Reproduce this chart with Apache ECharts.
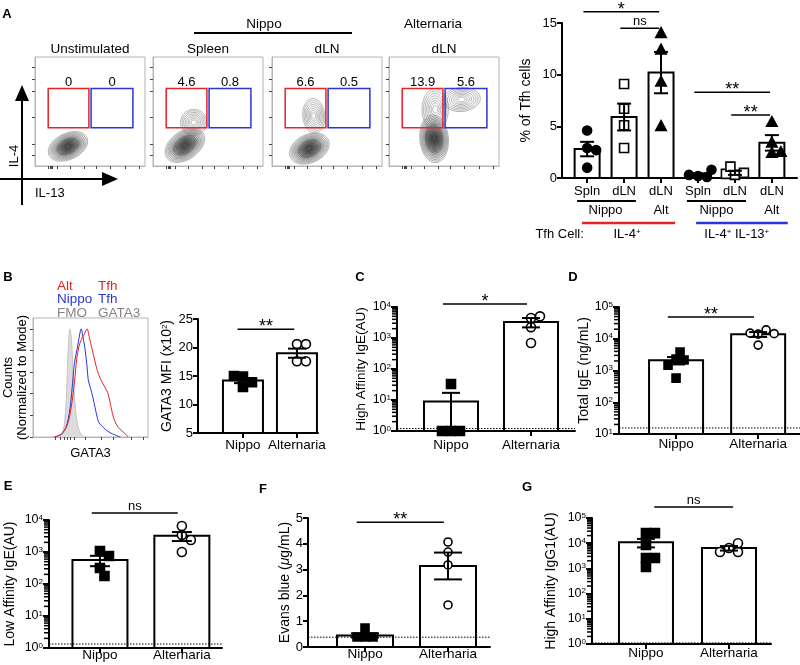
<!DOCTYPE html>
<html>
<head>
<meta charset="utf-8">
<script src="https://cdn.jsdelivr.net/npm/echarts@6.0.0/dist/echarts.min.js"></script>
<style>html,body{margin:0;padding:0;background:#fff;}#chart{width:800px;height:665px;}</style>
</head>
<body>
<div id="chart"></div>
<script>
// ================= DATA =================
// Panel A – flow plots (x: IL-13, y: IL-4), plot units 0-100
const flowTitles = ['Unstimulated', 'Spleen', 'dLN', 'dLN'];
const flowGroups = ['Nippo', 'Alternaria'];
const flowIL4Only = ['0', '4.6', '6.6', '13.9'];
const flowIL4IL13 = ['0', '0.8', '0.5', '5.6'];
const gateIL4 = [12, 35, 49, 71];
const gateIL4IL13 = [51, 35, 89, 71];
// contour lobes: [centre x, centre y, radius x, radius y, tilt deg, rings]
const flowLobes = [
  [[30, 18, 19, 12, 25, 13]],
  [[29, 19, 20, 13, 35, 13], [37, 40, 12, 12, 35, 8]],
  [[34, 16, 19, 13, 25, 13], [38, 46, 10, 16, 5, 8]],
  [[41, 25, 13, 22, 5, 14], [42, 52, 12, 19, 0, 8], [66, 61, 17, 11, 5, 8]]
];
// Panel A – % of Tfh cells
const tfhCats = ['Spln', 'dLN', 'dLN', 'Spln', 'dLN', 'dLN'];
const tfhInfection = ['Nippo', 'Alt', 'Nippo', 'Alt'];
const tfhSubset = ['IL-4', 'IL-4 IL-13'];
const tfhMean = [2.8, 5.9, 10.2, 0.3, 0.5, 3.4];
const tfhSem = [0.7, 1.3, 2.0, 0.15, 0.2, 0.75];
const tfhPoints = [[4.6, 2.9, 2.7, 1.0], [9.1, 6.7, 5.1, 2.9], [14.0, 12.4, 9.3, 5.0],
                   [0.2, 0.1, 0.3, 0.8], [0.3, 0.5, 0.4, 1.1], [5.4, 3.4, 2.4, 2.5]];
const tfhSig = [[1, 3, 16.1, '*'], [2, 3, 14.5, 'ns'], [4, 6, 8.3, '**'], [5, 6, 6.1, '**']];
// Panel B – GATA3 histogram (x: GATA3, y: % of mode)
const gata3FMO = [[22,0],[25,3],[27,10],[29,35],[30,65],[31,88],[32,100],[33,95],[34,80],[35,55],[37,25],[39,10],[41,4],[44,0]];
const gata3Nippo = [[19,0],[25,3],[29,10],[32,25],[34,45],[36,68],[39,85],[41,97],[42,100],[43,95],[45,83],[47,65],[48,53],[50,45],[52,37],[54,27],[57,14],[60,10],[63,7],[67,4],[71,2],[76,0]];
const gata3Alt = [[18,0],[24,2],[28,7],[31,15],[34,33],[36,50],[38,72],[40,84],[42,90],[44,94],[45,96],[47,100],[49,92],[51,83],[53,74],[55,65],[57,58],[59,53],[62,47],[65,41],[67,32],[69,22],[71,15],[74,9],[77,6],[79,4],[83,0]];
const histLegend = [['Alt', 'Tfh'], ['Nippo', 'Tfh'], ['FMO', 'GATA3']];
// Shared categories
const infectionCats = ['Nippo', 'Alternaria'];
// Panel B – GATA3 MFI (x10^2)
const gataMean = [14.2, 19.0];
const gataSem = [0.45, 0.8];
const gataPoints = [[14.9, 13.1, 13.9, 15.0], [20.6, 17.6, 17.6, 20.6]];
const gataSig = [[1, 2, 23.2, '**']];
// Panel C – High affinity IgE (AU)
const hiIgEMean = [9, 3300];
const hiIgESem = [8, 1100];
const hiIgEPoints = [[1, 1, 1, 33], [4400, 5000, 2240, 690]];
const hiIgESig = [[1, 2, 12500, '*']];
const hiIgELimit = [1.2];
// Panel D – Total IgE (ng/mL)
const totIgEMean = [2100, 13800];
const totIgESem = [550, 2400];
const totIgEPoints = [[2290, 2140, 3800, 1480, 575], [14000, 19000, 15000, 14500, 6300]];
const totIgESig = [[1, 2, 48000, '**']];
const totIgELimit = [15.5];
// Panel E – Low affinity IgE (AU)
const loIgEMean = [560, 3200];
const loIgESem = [200, 1000];
const loIgEPoints = [[1070, 750, 316, 178], [6500, 3400, 2370, 1000]];
const loIgESig = [[1, 2, 16500, 'ns']];
const loIgELimit = [1.33];
// Panel F – Evans blue (µg/mL)
const evansMean = [0.45, 3.14];
const evansSem = [0.08, 0.52];
const evansPoints = [[0.39, 0.39, 0.39, 0.73], [4.07, 3.68, 3.18, 1.63]];
const evansSig = [[1, 2, 4.84, '**']];
const evansLimit = [0.38];
// Panel G – High affinity IgG1 (AU)
const igg1Mean = [10800, 6400];
const igg1Sem = [4000, 1300];
const igg1Points = [[25000, 25000, 8500, 2600, 2600, 1140], [6460, 4470, 4470, 10000]];
const igg1Sig = [[1.2, 2.1, 275000, 'ns']];
const igg1Limit = [1.1];

// ================= BUILD =================
const FF = '"Liberation Sans", Arial, Helvetica, sans-serif';
const RED = '#e3242b', BLUE = '#2a35d8', GRAY = '#8c8282';
const grids = [], xAxes = [], yAxes = [], series = [];
function addGrid(g, xa, ya) {
  const i = grids.length;
  grids.push(g);
  xAxes.push(Object.assign({ gridIndex: i }, xa));
  yAxes.push(Object.assign({ gridIndex: i }, ya));
  return i;
}
const AX_LINE = { show: true, onZero: false, lineStyle: { color: '#000', width: 2 } };
const AX_TICK = { show: true, length: 5, lineStyle: { color: '#000', width: 2 } };
const supRich = {
  b: { fontSize: 12.5, fontFamily: FF, color: '#000' },
  s: { fontSize: 8, fontFamily: FF, color: '#000', verticalAlign: 'top' }
};
function catAxis(min, max, cats, margin, fs) {
  const vals = cats.map((c, i) => i + 1);
  return {
    type: 'value', min, max, axisLine: AX_LINE, splitLine: { show: false },
    axisTick: Object.assign({}, AX_TICK, { customValues: vals }),
    axisLabel: { customValues: vals, formatter: v => cats[Math.round(v) - 1] || '', margin,
      color: '#000', fontSize: fs || 13.5, fontFamily: FF }
  };
}
function linAxis(min, max, interval, name, gap, fs) {
  return {
    type: 'value', min, max, interval, name, nameLocation: 'middle', nameGap: gap,
    nameTextStyle: { color: '#000', fontSize: fs || 14, fontFamily: FF,
      rich: { s: { fontSize: 8, fontFamily: FF, color: '#000', verticalAlign: 'top' },
              i: { fontSize: fs || 14, fontFamily: FF, color: '#000', fontStyle: 'italic' },
              n: { fontSize: fs || 14, fontFamily: FF, color: '#000' } } },
    axisLine: AX_LINE, axisTick: AX_TICK, splitLine: { show: false },
    axisLabel: { color: '#000', fontSize: 13, fontFamily: FF, margin: 5 }
  };
}
function logAxis(min, max, name, gap, fs) {
  return {
    type: 'log', logBase: 10, min, max, name, nameLocation: 'middle', nameGap: gap,
    nameTextStyle: { color: '#000', fontSize: fs || 14, fontFamily: FF },
    axisLine: AX_LINE, axisTick: Object.assign({}, AX_TICK, { length: 6 }), splitLine: { show: false },
    axisLabel: { margin: 6, formatter: v => '{b|10}{s|' + Math.round(Math.log10(v)) + '}', rich: supRich }
  };
}
function shapeEl(kind, q, s) {
  const open = kind.indexOf('Open') >= 0;
  const style = { fill: open ? '#fff' : '#000', stroke: '#000', lineWidth: 1.6 };
  if (kind.indexOf('circle') === 0) return { type: 'circle', shape: { cx: q[0], cy: q[1], r: s / 2 }, style };
  if (kind.indexOf('square') === 0) return { type: 'rect', shape: { x: q[0] - s / 2, y: q[1] - s / 2, width: s, height: s }, style };
  return { type: 'polygon', shape: { points: [[q[0], q[1] - s * 0.62], [q[0] + s * 0.58, q[1] + s * 0.45], [q[0] - s * 0.58, q[1] + s * 0.45]] }, style };
}

function barPanel(o) {
  const gi = addGrid(o.grid, catAxis(o.xmin, o.xmax, o.cats, o.labelMargin, o.labelFs), o.yAxis);
  const base = o.base;
  // log-axis minor ticks (2..9 per decade), drawn through the axis scale
  if (o.yAxis.type === 'log') {
    const e0 = Math.round(Math.log10(o.yAxis.min)), e1 = Math.round(Math.log10(o.yAxis.max));
    series.push({
      type: 'custom', xAxisIndex: gi, yAxisIndex: gi, z: 7, clip: false, silent: true,
      data: [[o.xmin, o.yAxis.min]],
      renderItem: (p, api) => {
        const ch = [];
        for (let e = e0; e < e1; e++) for (let d = 2; d <= 9; d++) {
          const a = api.coord([o.xmin, d * Math.pow(10, e)]);
          ch.push({ type: 'line', shape: { x1: a[0] - 5, y1: a[1], x2: a[0], y2: a[1] }, style: { stroke: '#000', lineWidth: 1.5 } });
        }
        return { type: 'group', children: ch };
      }
    });
  }
  // bars
  series.push({
    type: 'custom', xAxisIndex: gi, yAxisIndex: gi, z: 2, clip: false, silent: true,
    data: o.mean.map((m, i) => [i + 1, m]),
    renderItem: (p, api) => {
      const x = api.value(0), v = api.value(1);
      const a = api.coord([x, base]), b = api.coord([x, v]);
      return { type: 'rect', shape: { x: a[0] - o.barW / 2, y: b[1], width: o.barW, height: a[1] - b[1] },
        style: { fill: '#fff', stroke: '#000', lineWidth: 2 } };
    }
  });
  // detection limit
  if (o.limit) {
    series.push({
      type: 'custom', xAxisIndex: gi, yAxisIndex: gi, z: 3, clip: false, silent: true,
      data: o.limit.map(v => [o.xmin, v]),
      renderItem: (p, api) => {
        const v = api.value(1);
        const a = api.coord([o.xmin, v]), b = api.coord([o.xmax, v]);
        return { type: 'line', shape: { x1: a[0], y1: a[1], x2: b[0], y2: b[1] },
          style: { stroke: '#000', lineWidth: 1, lineDash: [1.5, 1.5] } };
      }
    });
  }
  // individual points (beeswarm)
  series.push({
    type: 'custom', xAxisIndex: gi, yAxisIndex: gi, z: 4, clip: false, silent: true,
    data: o.points.map((g, i) => [i + 1, g[0]]),
    renderItem: (p, api) => {
      const vals = o.points[p.dataIndex], x0 = p.dataIndex + 1, s = o.size;
      const placed = [], children = [];
      vals.forEach(v => {
        const pt = api.coord([x0, v]);
        let off = 0;
        for (let k = 0; k < 30; k++) {
          const c = k === 0 ? 0 : (k % 2 ? 1 : -1) * Math.ceil(k / 2) * s * 0.5;
          if (placed.every(q => Math.hypot(q[0] - (pt[0] + c), q[1] - pt[1]) >= s * 0.92)) { off = c; break; }
        }
        const q = [pt[0] + off, pt[1]];
        placed.push(q);
        children.push(shapeEl(o.shapes[p.dataIndex], q, s));
      });
      return { type: 'group', children };
    }
  });
  // error bars (mean ± SEM)
  series.push({
    type: 'custom', xAxisIndex: gi, yAxisIndex: gi, z: 5, clip: false, silent: true,
    data: o.mean.map((m, i) => [i + 1, m, o.sem[i]]),
    renderItem: (p, api) => {
      const x = api.value(0), m = api.value(1), e = api.value(2);
      const lo = Math.max(m - e, base), hi = m + e;
      const a = api.coord([x, hi]), b = api.coord([x, lo]);
      const w = o.capW / 2, st = { stroke: '#000', lineWidth: 2 };
      const ch = [
        { type: 'line', shape: { x1: a[0], y1: a[1], x2: b[0], y2: b[1] }, style: st },
        { type: 'line', shape: { x1: a[0] - w, y1: a[1], x2: a[0] + w, y2: a[1] }, style: st }
      ];
      if (lo > base) ch.push({ type: 'line', shape: { x1: b[0] - w, y1: b[1], x2: b[0] + w, y2: b[1] }, style: st });
      return { type: 'group', children: ch };
    }
  });
  // significance brackets
  series.push({
    type: 'custom', xAxisIndex: gi, yAxisIndex: gi, z: 6, clip: false, silent: true,
    data: o.sig.map(s => [s[0], s[2]]),
    renderItem: (p, api) => {
      const s = o.sig[p.dataIndex];
      const a = api.coord([s[0] - 0.1, s[2]]), b = api.coord([s[1] - 0.05, s[2]]);
      const star = s[3].indexOf('*') >= 0;
      return { type: 'group', children: [
        { type: 'line', shape: { x1: a[0], y1: a[1], x2: b[0], y2: b[1] }, style: { stroke: '#000', lineWidth: 1.5 } },
        { type: 'text', x: (a[0] + b[0]) / 2, y: a[1] - (star ? 2 : 7),
          style: { text: s[3], fill: '#000', fontSize: star ? 18 : 13, fontFamily: FF, align: 'center', verticalAlign: 'middle' } }
      ] };
    }
  });
  return gi;
}

// ---- Panel A flow plots ----
const flowLefts = [35, 153, 272, 389];
const flowXTicks = [12, 14, 15, 16, 20, 32, 45, 56, 68, 82, 95];
const flowYTicks = [10, 20, 45, 69, 80, 91];
function flowAxis(ticks) {
  return { type: 'value', min: 0, max: 100, axisLine: { show: true, onZero: false, lineStyle: { color: '#b5b5b5', width: 1 } },
    axisTick: { show: true, customValues: ticks, length: 3, lineStyle: { color: '#444', width: 1 } },
    axisLabel: { show: false }, splitLine: { show: false } };
}
flowTitles.forEach((t, fi) => {
  const gi = addGrid({ left: flowLefts[fi], top: 57, width: 110, height: 109, show: true, borderColor: '#b5b5b5', borderWidth: 1 },
    flowAxis(flowXTicks), flowAxis(flowYTicks));
  const lobes = flowLobes[fi];
  series.push({
    type: 'custom', xAxisIndex: gi, yAxisIndex: gi, z: 2, clip: true, silent: true,
    data: lobes.map(l => [l[0], l[1]]),
    renderItem: (p, api) => {
      const L = lobes[p.dataIndex];
      const c = api.coord([L[0], L[1]]), sz = api.size([1, 1]);
      const rx = L[2] * sz[0], ry = L[3] * sz[1], ang = L[4] * Math.PI / 180, n = L[5];
      const core = p.dataIndex === 0;
      const children = [];
      for (let k = 0; k < n; k++) {
        const s = 1 - (k / n) * 0.93;
        const pts = [];
        for (let t = 0; t < 60; t++) {
          const th = t / 60 * 2 * Math.PI;
          const ex = rx * s * Math.cos(th), ey = ry * s * Math.sin(th);
          pts.push([c[0] + ex * Math.cos(ang) - ey * Math.sin(ang), c[1] - (ex * Math.sin(ang) + ey * Math.cos(ang))]);
        }
        children.push({ type: 'polygon', shape: { points: pts },
          style: { fill: core ? 'rgba(20,20,20,' + (0.03 + 0.14 * k / n).toFixed(3) + ')' : 'none',
            stroke: core && k > n * 0.4 ? '#333' : '#777', lineWidth: 0.55 } });
      }
      return { type: 'group', children };
    }
  });
  const gates = [gateIL4, gateIL4IL13], labels = [flowIL4Only[fi], flowIL4IL13[fi]], cols = [RED, BLUE];
  series.push({
    type: 'custom', xAxisIndex: gi, yAxisIndex: gi, z: 4, clip: false, silent: true,
    data: gates.map(g => [g[0], g[1]]),
    renderItem: (p, api) => {
      const g = gates[p.dataIndex];
      const a = api.coord([g[0], g[3]]), b = api.coord([g[2], g[1]]);
      return { type: 'group', children: [
        { type: 'rect', shape: { x: a[0], y: a[1], width: b[0] - a[0], height: b[1] - a[1] }, style: { fill: 'none', stroke: cols[p.dataIndex], lineWidth: 1.5 } },
        { type: 'text', x: (a[0] + b[0]) / 2, y: a[1], style: { text: labels[p.dataIndex], fill: '#000', fontSize: 13, fontFamily: FF, align: 'center', verticalAlign: 'bottom' } }
      ] };
    }
  });
});

// ---- Panel A bar chart ----
const gA = barPanel({
  grid: { left: 562, top: 23, width: 235, height: 155 }, xmin: 0.32, xmax: 6.68, cats: tfhCats, labelMargin: 7, labelFs: 13,
  yAxis: linAxis(0, 15, 5, '% of Tfh cells', 29), base: 0, barW: 25, capW: 14, size: 9,
  mean: tfhMean, sem: tfhSem, points: tfhPoints, sig: tfhSig,
  shapes: ['circleFill', 'squareOpen', 'triFill', 'circleFill', 'squareOpen', 'triFill']
});
series.push({
  type: 'custom', xAxisIndex: gA, yAxisIndex: gA, z: 6, clip: false, silent: true, data: [[1, 0]],
  renderItem: (p, api) => {
    const y0 = api.coord([1, 0])[1], X = v => api.coord([v, 0])[0];
    const ch = [];
    const line = (x1, x2, dy, col, w) => ch.push({ type: 'line', shape: { x1: X(x1), y1: y0 + dy, x2: X(x2), y2: y0 + dy }, style: { stroke: col, lineWidth: w } });
    const txt = (x, dy, t, align) => ch.push({ type: 'text', x: X(x), y: y0 + dy, style: { text: t, fill: '#000', fontSize: 13, fontFamily: FF, align: align || 'center', verticalAlign: 'middle',
      rich: { a: { fontSize: 13, fontFamily: FF, color: '#000' }, s: { fontSize: 8, fontFamily: FF, color: '#000', verticalAlign: 'top' } } } });
    line(0.73, 2.32, 23, '#000', 2); line(3.7, 5.3, 23, '#000', 2);
    txt(1.5, 32, tfhInfection[0]); txt(3, 32, tfhInfection[1]); txt(4.5, 32, tfhInfection[2]); txt(6, 32, tfhInfection[3]);
    line(0.86, 3.38, 45, RED, 2.5); line(3.95, 6.43, 45, BLUE, 2.5);
    txt(-0.4, 56, 'Tfh Cell:', 'left');
    txt(2.08, 56, '{a|' + tfhSubset[0] + '}{s|+}');
    const sp = tfhSubset[1].split(' ');
    txt(5.05, 56, '{a|' + sp[0] + '}{s|+}{a| ' + sp[1] + '}{s|+}');
    return { type: 'group', children: ch };
  }
});

// ---- Panel B histogram ----
const hAx = { type: 'value', min: 0, max: 100, name: 'GATA3', nameLocation: 'middle', nameGap: 10,
  nameTextStyle: { color: '#000', fontSize: 13, fontFamily: FF, verticalAlign: 'top' },
  axisLine: { show: true, onZero: false, lineStyle: { color: '#b5b5b5', width: 1 } },
  axisTick: { show: true, customValues: [19.5, 24, 27, 30, 32, 36, 45, 59, 70, 85, 96], length: 3, lineStyle: { color: '#444', width: 1 } },
  axisLabel: { show: false }, splitLine: { show: false } };
const hAy = { type: 'value', min: 0, max: 110, name: 'Counts\n(Normalized to Mode)', nameLocation: 'middle', nameGap: 4,
  nameTextStyle: { color: '#000', fontSize: 13, fontFamily: FF, lineHeight: 14 },
  axisLine: { show: true, onZero: false, lineStyle: { color: '#b5b5b5', width: 1 } },
  axisTick: { show: true, customValues: [0, 20, 40, 60, 80, 100], length: 3, lineStyle: { color: '#444', width: 1 } },
  axisLabel: { show: false }, splitLine: { show: false } };
const gH = addGrid({ left: 30, top: 318, width: 118, height: 119, show: true, borderColor: '#b5b5b5', borderWidth: 1 }, hAx, hAy);
series.push({ type: 'line', xAxisIndex: gH, yAxisIndex: gH, data: gata3FMO, smooth: 0.3, symbol: 'none', z: 2,
  lineStyle: { color: '#c4c4c4', width: 1 }, areaStyle: { color: '#dcdcdc', opacity: 1 } });
series.push({ type: 'line', xAxisIndex: gH, yAxisIndex: gH, data: gata3Nippo, smooth: 0.3, symbol: 'none', z: 3,
  lineStyle: { color: BLUE, width: 1 } });
series.push({ type: 'line', xAxisIndex: gH, yAxisIndex: gH, data: gata3Alt, smooth: 0.3, symbol: 'none', z: 4,
  lineStyle: { color: RED, width: 1 } });

// ---- Panels B (MFI), C, D, E, F, G ----
barPanel({
  grid: { left: 198, top: 319, width: 120, height: 114 }, xmin: 0.167, xmax: 2.39, cats: infectionCats, labelMargin: 5,
  yAxis: linAxis(5, 25, 5, '{n|GATA3 MFI (x10}{s|2}{n|)}', 23), base: 5, barW: 40, capW: 18, size: 9,
  mean: gataMean, sem: gataSem, points: gataPoints, sig: gataSig, shapes: ['squareFill', 'circleOpen']
});
barPanel({
  grid: { left: 397, top: 307, width: 178, height: 124 }, xmin: 0.325, xmax: 2.55, cats: infectionCats, labelMargin: 7,
  yAxis: logAxis(1, 10000, 'High Affinity IgE(AU)', 27, 13.5), base: 1, barW: 54, capW: 18, size: 9,
  mean: hiIgEMean, sem: hiIgESem, points: hiIgEPoints, sig: hiIgESig, limit: hiIgELimit, shapes: ['squareFill', 'circleOpen']
});
barPanel({
  grid: { left: 619, top: 307, width: 181, height: 127 }, xmin: 0.305, xmax: 2.51, cats: infectionCats, labelMargin: 3,
  yAxis: logAxis(10, 100000, 'Total IgE (ng/mL)', 24), base: 10, barW: 54, capW: 18, size: 8,
  mean: totIgEMean, sem: totIgESem, points: totIgEPoints, sig: totIgESig, limit: totIgELimit, shapes: ['squareFill', 'circleOpen']
});
barPanel({
  grid: { left: 49, top: 520, width: 173, height: 128 }, xmin: 0.378, xmax: 2.49, cats: infectionCats, labelMargin: 0,
  yAxis: logAxis(1, 10000, 'Low Affinity IgE(AU)', 32), base: 1, barW: 55, capW: 20, size: 9,
  mean: loIgEMean, sem: loIgESem, points: loIgEPoints, sig: loIgESig, limit: loIgELimit, shapes: ['squareFill', 'circleOpen']
});
barPanel({
  grid: { left: 308, top: 518, width: 182, height: 129 }, xmin: 0.313, xmax: 2.506, cats: infectionCats, labelMargin: 0,
  yAxis: linAxis(0, 5, 1, '{n|Evans blue (}{i|μ}{n|g/mL)}', 16), base: 0, barW: 56, capW: 28, size: 8,
  mean: evansMean, sem: evansSem, points: evansPoints, sig: evansSig, limit: evansLimit, shapes: ['squareFill', 'circleOpen']
});
barPanel({
  grid: { left: 592, top: 518, width: 179, height: 126 }, xmin: 0.35, xmax: 2.506, cats: infectionCats, labelMargin: 2,
  yAxis: logAxis(1, 100000, 'High Affinity IgG1(AU)', 34), base: 1, barW: 54, capW: 18, size: 9,
  mean: igg1Mean, sem: igg1Sem, points: igg1Points, sig: igg1Sig, limit: igg1Limit, shapes: ['squareFill', 'circleOpen']
});

// ---- Static layout: letters, headers, arrows, legend ----
function T(text, x, y, extra) {
  return { type: 'text', x, y, z: 10, silent: true,
    style: Object.assign({ text, fill: '#000', fontSize: 13, fontFamily: FF, align: 'center', verticalAlign: 'middle' }, extra || {}) };
}
const flowCentres = flowLefts.map(l => l + 55);
const graphic = [
  T('A', 7, 14, { fontWeight: 'bold', fontSize: 13 }),
  T('B', 8, 277, { fontWeight: 'bold', fontSize: 13 }),
  T('C', 360, 277, { fontWeight: 'bold', fontSize: 13 }),
  T('D', 573, 277, { fontWeight: 'bold', fontSize: 13 }),
  T('E', 8, 486, { fontWeight: 'bold', fontSize: 13 }),
  T('F', 263, 489, { fontWeight: 'bold', fontSize: 13 }),
  T('G', 527, 487, { fontWeight: 'bold', fontSize: 13 }),
  T(flowGroups[0], 264, 24, { fontSize: 13.5 }),
  T(flowGroups[1], 433, 24, { fontSize: 13.5 }),
  { type: 'line', z: 10, silent: true, shape: { x1: 194, y1: 33, x2: 352, y2: 33 }, style: { stroke: '#000', lineWidth: 2 } },
  { type: 'line', z: 10, silent: true, shape: { x1: 22, y1: 98, x2: 22, y2: 205 }, style: { stroke: '#000', lineWidth: 2 } },
  { type: 'polygon', z: 10, silent: true, shape: { points: [[22, 85], [29, 101], [15, 101]] }, style: { fill: '#000' } },
  { type: 'line', z: 10, silent: true, shape: { x1: 0, y1: 179, x2: 105, y2: 179 }, style: { stroke: '#000', lineWidth: 2 } },
  { type: 'polygon', z: 10, silent: true, shape: { points: [[118, 179], [102, 172], [102, 186]] }, style: { fill: '#000' } },
  Object.assign(T('IL-4', 14, 156, { fontSize: 13 }), { rotation: Math.PI / 2 }),
  T('IL-13', 35, 193, { fontSize: 13, align: 'left' })
];
flowTitles.forEach((t, i) => graphic.push(T(t, flowCentres[i], 49, { fontSize: 13.5 })));
const legCols = [RED, BLUE, GRAY];
histLegend.forEach((row, i) => {
  graphic.push(T(row[0], 57, 286 + i * 13.5, { fill: legCols[i], align: 'left', fontSize: 13.5 }));
  graphic.push(T(row[1], 98, 286 + i * 13.5, { fill: legCols[i], align: 'left', fontSize: 13.5 }));
});

const chart = echarts.init(document.getElementById('chart'), null, { renderer: 'canvas' });
chart.setOption({
  animation: false,
  backgroundColor: '#fff',
  textStyle: { fontFamily: FF },
  grid: grids, xAxis: xAxes, yAxis: yAxes, series, graphic
});
</script>
</body>
</html>
